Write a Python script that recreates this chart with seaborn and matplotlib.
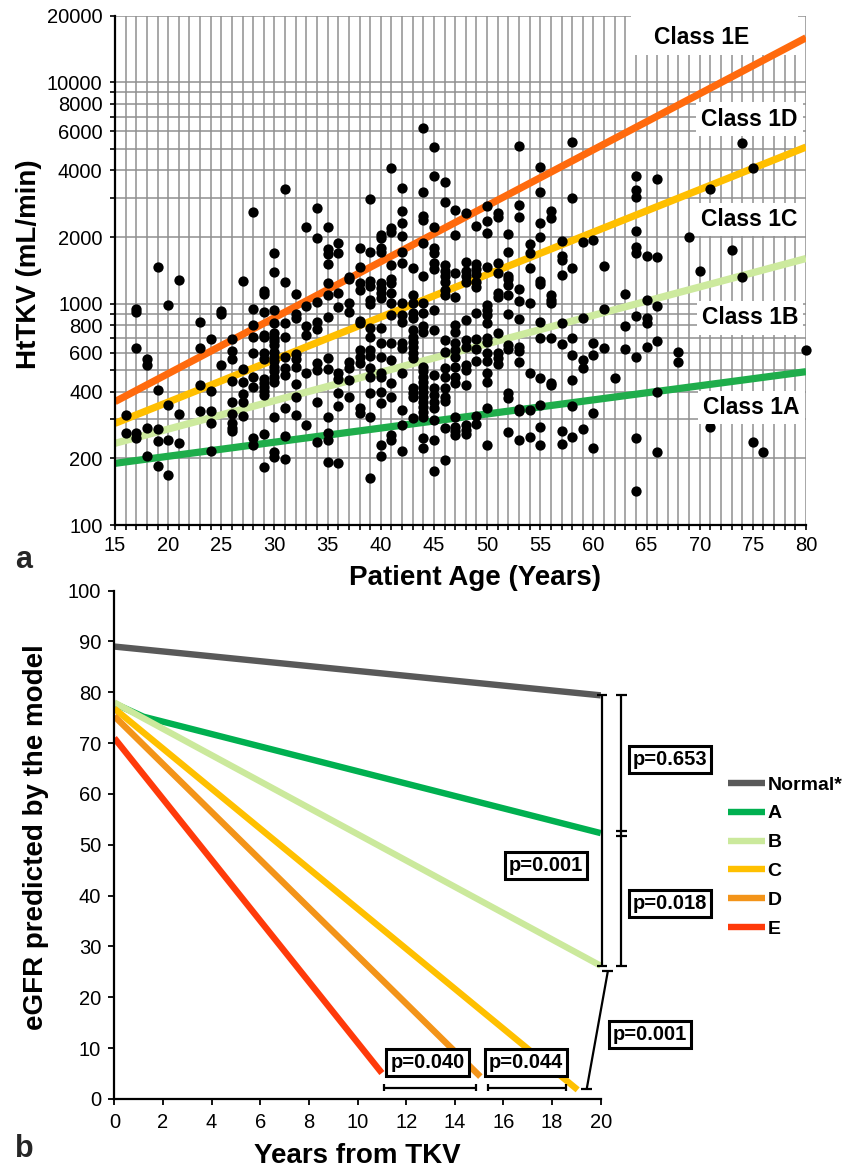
import numpy as np
import pandas as pd
import matplotlib
matplotlib.use("Agg")
import matplotlib.pyplot as plt
from matplotlib.patches import Rectangle
import seaborn as sns

sns.set_theme(style="ticks")
plt.rcParams["font.family"] = ["Liberation Sans", "DejaVu Sans"]

# ---------------- Panel a data ----------------
scatter_ages = [16, 17, 18, 19, 20, 21, 23, 24, 25, 26, 27, 28, 29, 30, 31, 32, 33, 34, 35, 36,
                37, 38, 39, 40, 41, 42, 43, 44, 45, 46, 47, 48, 49, 50, 51, 52, 53, 54, 55, 56,
                57, 58, 59, 60, 61, 62, 63, 64, 65, 66, 68, 69, 70, 71, 73, 74, 75, 76, 80]
scatter_httkv = [
    [315, 261],
    [946, 914, 630, 261, 246],
    [561, 528, 273, 206],
    [1470, 407, 271, 240, 184],
    [990, 350, 242, 168],
    [1280, 318, 234],
    [829, 630, 431, 327],
    [695, 405, 327, 288, 217],
    [930, 900, 530],
    [690, 611, 561, 449, 360, 318, 288, 275, 266],
    [1267, 505, 444, 391, 358, 311],
    [2588, 945, 801, 707, 599, 468, 419, 246, 230],
    [1141, 1102, 915, 720, 707, 600, 560, 455, 440, 422, 405, 387, 258, 182],
    [1700, 1391, 936, 815, 735, 702, 678, 648, 605, 574, 549, 519, 498, 468, 444, 309, 214, 202],
    [3300, 1253, 821, 710, 572, 514, 476, 337, 252, 199],
    [1102, 898, 859, 590, 561, 519, 434, 380, 314],
    [2221, 977, 793, 722, 488, 283],
    [2698, 1988, 1021, 824, 766, 538, 501, 361, 238],
    [2221, 1761, 1678, 1511, 1236, 1095, 874, 566, 505, 307, 260, 242, 193],
    [1888, 1690, 1122, 970, 485, 458, 394, 345, 190],
    [1325, 1288, 1002, 914, 547, 510, 452, 380],
    [1778, 1470, 1236, 1153, 838, 815, 618, 576, 538, 337, 320],
    [2963, 1718, 1271, 1206, 1040, 997, 774, 710, 618, 580, 510, 468, 394, 309, 163],
    [2040, 1980, 1780, 1720, 1236, 1173, 1122, 1057, 774, 662, 576, 488, 468, 400, 355, 230, 204],
    [4090, 2206, 2116, 1496, 1288, 1236, 1114, 1011, 889, 662, 557, 437, 380, 255, 242],
    [3333, 2624, 2307, 2030, 1718, 1521, 1004, 889, 830, 662, 629, 488, 331, 283, 215],
    [1445, 1095, 1004, 911, 859, 761, 710, 673, 640, 601, 566, 415, 394, 380, 303],
    [6200, 3186, 2490, 2390, 1888, 1339, 1004, 904, 793, 748, 519, 494, 468, 444, 422, 400, 380,
     361, 343, 325, 309, 246, 222],
    [5090, 3776, 2230, 1778, 1690, 1521, 1430, 937, 761, 476, 415, 387, 361, 337, 298, 242, 176],
    [3535, 2871, 1496, 1410, 1334, 1258, 1153, 1095, 685, 607, 510, 468, 415, 380, 365, 273, 197],
    [2650, 2037, 1372, 1076, 801, 748, 662, 618, 576, 519, 468, 437, 309, 278, 266, 255],
    [2560, 1549, 1410, 1339, 1258, 844, 685, 635, 528, 501, 429, 283, 269, 258],
    [2253, 1511, 1430, 1362, 1258, 1194, 911, 693, 622, 553, 311, 286],
    [2773, 2372, 2094, 1470, 986, 937, 889, 815, 697, 669, 597, 553, 485, 444, 337, 230],
    [2578, 2456, 1521, 1381, 1114, 1069, 739, 597, 566, 534],
    [2057, 1718, 1339, 1288, 1216, 1095, 898, 650, 622, 394, 374, 264],
    [5160, 2792, 2473, 1161, 1032, 856, 635, 609, 543, 334, 327, 242],
    [1861, 1700, 1455, 1004, 488, 331, 251],
    [4159, 3209, 2324, 2009, 1271, 1227, 827, 697, 460, 349, 278, 230],
    [2624, 2447, 1095, 1040, 1004, 702, 440, 429],
    [1927, 1642, 1576, 1348, 815, 655, 267, 232],
    [5361, 2993, 1445, 697, 587, 452, 345, 251],
    [1906, 859, 557, 510, 271],
    [1931, 662, 587, 322, 222],
    [1486, 943, 629],
    [460],
    [1102, 793, 622],
    [3776, 3263, 3048, 2138, 1811, 1690, 883, 572, 246, 142],
    [1648, 1040, 859, 815, 640],
    [3648, 1620, 977, 681, 398, 214],
    [603, 547],
    [2009],
    [1410],
    [3287, 278],
    [1748],
    [5325, 1315],
    [4090, 238],
    [213],
    [618],
]

boundary_ages = [15, 80]
boundary_names = ["1A/1B", "1B/1C", "1C/1D", "1D/1E"]
boundary_1A_1B = [190, 493]
boundary_1B_1C = [234, 1600]
boundary_1C_1D = [288, 5100]
boundary_1D_1E = [361, 15900]
boundary_colors = ["#1fad4b", "#cdea9e", "#ffbf00", "#ff6a0d"]

class_labels = ["Class 1E", "Class 1D", "Class 1C", "Class 1B", "Class 1A"]
class_label_age = [70.15, 74.7, 74.7, 74.75, 74.85]
class_label_val = [15870, 6830, 2390, 862, 341]

y_major = [100, 200, 400, 600, 800, 1000, 2000, 4000, 6000, 8000, 10000, 20000]
y_minor = [300, 500, 700, 900, 3000, 5000, 7000, 9000]
x_major = list(range(15, 81, 5))
x_minor = list(range(15, 81, 1))

# ---------------- Panel b data ----------------
series_names = ["Normal*", "A", "B", "C", "D", "E"]
normal_x = [0, 20]
normal_y = [89.0, 79.4]
a_x = [0, 1.2, 20]
a_y = [77.8, 75.2, 52.3]
b_x = [0, 20]
b_y = [78.0, 26.2]
c_x = [0, 19.05]
c_y = [76.8, 1.8]
d_x = [0, 15.05]
d_y = [75.3, 4.4]
e_x = [0, 11.0]
e_y = [71.0, 5.1]
series_colors = ["#595959", "#00b050", "#cbe99c", "#ffc000", "#f39419", "#ff3a0a"]

# ---------------- Figure ----------------
fig = plt.figure(figsize=(8.57, 11.74), dpi=100)
ax_a = fig.add_axes([0.1342, 0.5528, 0.8063, 0.4338])
ax_b = fig.add_axes([0.1334, 0.0639, 0.5676, 0.4330])

# ---- Panel a ----
sc_x = [a for a, vals in zip(scatter_ages, scatter_httkv) for _ in vals]
sc_y = [v for vals in scatter_httkv for v in vals]
df_sc = pd.DataFrame({"age": sc_x, "httkv": sc_y})

bounds = [boundary_1A_1B, boundary_1B_1C, boundary_1C_1D, boundary_1D_1E]
df_b = pd.DataFrame({
    "age": [a for _ in bounds for a in boundary_ages],
    "httkv": [v for bd in bounds for v in bd],
    "boundary": [n for n in boundary_names for _ in boundary_ages],
})

ax_a.set_yscale("log")
sns.lineplot(data=df_b, x="age", y="httkv", hue="boundary", hue_order=boundary_names,
             palette=boundary_colors, linewidth=5.2, legend=False, ax=ax_a, zorder=2,
             solid_capstyle="butt")
sns.scatterplot(data=df_sc, x="age", y="httkv", color="black", s=55, linewidth=0,
                ax=ax_a, zorder=3, clip_on=False)

ax_a.set_xlim(15, 80)
ax_a.set_ylim(100, 20000)
ax_a.set_xticks(x_major)
ax_a.set_xticks(x_minor, minor=True)
ax_a.set_yticks(y_major)
ax_a.set_yticklabels([str(v) for v in y_major])
ax_a.set_yticks(y_minor, minor=True)
ax_a.yaxis.set_minor_formatter(matplotlib.ticker.NullFormatter())
ax_a.grid(which="both", axis="both", color="#8f8f8f", linewidth=1.1)
ax_a.set_axisbelow(True)
for s in ["top", "right"]:
    ax_a.spines[s].set_visible(False)
for s in ["left", "bottom"]:
    ax_a.spines[s].set_color("black")
    ax_a.spines[s].set_linewidth(1.6)
ax_a.tick_params(axis="both", which="both", direction="out", length=3.5, width=1.2,
                 color="black", labelsize=14.5, labelcolor="black")
ax_a.tick_params(axis="y", which="both", pad=5.5)
ax_a.tick_params(axis="x", which="both", pad=4.5)

ax_a.set_xlabel("Patient Age (Years)", fontsize=20, fontweight="bold", color="black")
ax_a.set_ylabel("HtTKV (mL/min)", fontsize=20, fontweight="bold", color="black")
ax_a.xaxis.set_label_coords(0.521, -0.078)
ax_a.yaxis.set_label_coords(-0.105, 0.513)

# white area behind the "Class 1E" label
ax_a.add_patch(Rectangle((63.5, 13300), 79.2 - 63.5, 20000 - 13300, facecolor="white",
                         edgecolor="none", zorder=1.5))
for lab, xa, yv in zip(class_labels, class_label_age, class_label_val):
    ax_a.text(xa, yv, lab, ha="center", va="center", fontsize=16.5, fontweight="bold",
              color="black", zorder=6,
              bbox=dict(boxstyle="square,pad=0.22", facecolor="white", edgecolor="none"))

# ---- Panel b ----
xs = [normal_x, a_x, b_x, c_x, d_x, e_x]
ys = [normal_y, a_y, b_y, c_y, d_y, e_y]
df_l = pd.DataFrame({
    "years": [v for xx in xs for v in xx],
    "egfr": [v for yy in ys for v in yy],
    "group": [n for n, xx in zip(series_names, xs) for _ in xx],
})
sns.lineplot(data=df_l, x="years", y="egfr", hue="group", hue_order=series_names,
             palette=series_colors, linewidth=4.6, legend=False, ax=ax_b, sort=False,
             solid_capstyle="butt")
handles = list(ax_b.get_lines()[:len(series_names)])

ax_b.set_xlim(0, 20)
ax_b.set_ylim(0, 100)
ax_b.set_xticks(range(0, 21, 2))
ax_b.set_yticks(range(0, 101, 10))
for s in ["top", "right"]:
    ax_b.spines[s].set_visible(False)
for s in ["left", "bottom"]:
    ax_b.spines[s].set_color("black")
    ax_b.spines[s].set_linewidth(1.6)
ax_b.tick_params(axis="both", direction="out", length=4.5, width=1.3, color="black",
                 labelsize=14.5, labelcolor="black")
ax_b.tick_params(axis="y", pad=5)
ax_b.tick_params(axis="x", pad=5.5)
ax_b.set_xlabel("Years from TKV", fontsize=20, fontweight="bold", color="black")
ax_b.set_ylabel("eGFR predicted by the model", fontsize=20, fontweight="bold", color="black")
ax_b.xaxis.set_label_coords(0.5, -0.0866)
ax_b.yaxis.set_label_coords(-0.134, 0.516)

leg = ax_b.legend(handles, series_names, loc="upper left",
                  bbox_to_anchor=((728 - 114.3) / 486.4, (1099 - 776) / 508.3),
                  bbox_transform=ax_b.transAxes, frameon=False, borderpad=0,
                  borderaxespad=0, handlelength=1.9, handletextpad=0.12,
                  labelspacing=0.58, prop={"weight": "bold", "size": 14})
for t in leg.get_texts():
    t.set_color("black")

# significance brackets
kw = dict(color="black", linewidth=1.6, clip_on=False, solid_capstyle="butt")
n_end = normal_y[-1]
a_end = a_y[-1]
b_end = b_y[-1]
# bracket 1: Normal vs B
x1 = 20.05
ax_b.plot([x1, x1], [n_end, b_end], **kw)
ax_b.plot([x1 - 0.2, x1 + 0.2], [n_end, n_end], **kw)
ax_b.plot([x1 - 0.2, x1 + 0.2], [b_end, b_end], **kw)
# bracket 2: Normal vs A and A vs B
x2 = 20.85
ax_b.plot([x2, x2], [n_end, b_end], **kw)
ax_b.plot([x2 - 0.22, x2 + 0.22], [n_end, n_end], **kw)
ax_b.plot([x2 - 0.22, x2 + 0.22], [b_end, b_end], **kw)
ax_b.plot([x2 - 0.22, x2 + 0.22], [a_end + 0.5, a_end + 0.5], **kw)
ax_b.plot([x2 - 0.22, x2 + 0.22], [a_end - 0.5, a_end - 0.5], **kw)
# bracket 3: B vs C (diagonal)
top = (20.29, b_end - 1.1)
bot = (19.42, c_y[-1] + 0.1)
ax_b.plot([top[0], bot[0]], [top[1], bot[1]], **kw)
ax_b.plot([top[0] - 0.25, top[0] + 0.22], [top[1], top[1]], **kw)
ax_b.plot([bot[0] - 0.24, bot[0] + 0.22], [bot[1], bot[1]], **kw)
# horizontal brackets E vs D, D vs C
yb = 2.2
for xl, xr in [(11.07, 14.85), (15.35, 18.58)]:
    ax_b.plot([xl, xr], [yb, yb], **kw)
    ax_b.plot([xl, xl], [yb - 0.65, yb + 0.65], **kw)
    ax_b.plot([xr, xr], [yb - 0.65, yb + 0.65], **kw)

p_texts = ["p=0.653", "p=0.001", "p=0.018", "p=0.001", "p=0.040", "p=0.044"]
p_x = [22.85, 17.75, 22.85, 22.03, 12.88, 16.93]
p_y = [66.7, 46.0, 38.4, 12.6, 7.1, 7.1]
for t, px, py in zip(p_texts, p_x, p_y):
    ax_b.text(px, py, t, ha="center", va="center", fontsize=14.5, fontweight="bold",
              color="black", zorder=6, clip_on=False,
              bbox=dict(boxstyle="square,pad=0.2", facecolor="white", edgecolor="black",
                        linewidth=2.2))

fig.text(0.0175, 0.5162, "a", fontsize=22, fontweight="bold", ha="left", va="baseline")
fig.text(0.0175, 0.0145, "b", fontsize=22, fontweight="bold", ha="left", va="baseline")

fig.savefig("out.png", dpi=100, facecolor="white")
